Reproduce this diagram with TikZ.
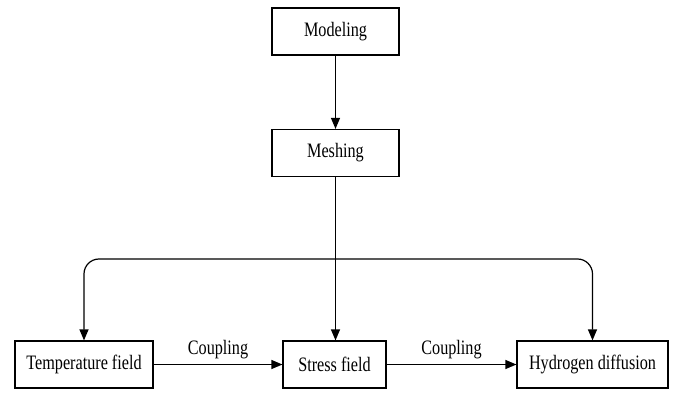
\documentclass[tikz,border=0pt]{standalone}
\usepackage{fontspec}
\setmainfont[FakeStretch=0.79]{Liberation Serif}
\usetikzlibrary{arrows.meta,positioning}
\begin{document}
\begin{tikzpicture}[x=1pt,y=1pt,
  box/.style={draw, line width=1.2pt, minimum height=47pt, inner sep=0pt, font=\fontsize{20.5}{22}\selectfont},
  arr/.style={line width=1.2pt, -{Triangle[length=11pt,width=9pt]}},
  lab/.style={font=\fontsize{20.5}{22}\selectfont}]
\useasboundingbox (0,0) rectangle (675,392);
\node[box, minimum width=127pt] (model) at (335.5,360.5) {Modeling};
\node[box, minimum width=127pt] (mesh) at (335.5,239) {Meshing};
\node[box, minimum width=138pt] (temp) at (84,27.5) {Temperature field};
\node[box, minimum width=103pt] (stress) at (334.5,27.5) {Stress field};
\node[box, minimum width=151pt] (hyd) at (592.5,27.5) {Hydrogen diffusion};
\coordinate (j) at (mesh.south |- 0,133);
\draw[arr] (model) -- (mesh);
\draw[arr] (mesh.south) -- (mesh.south |- stress.north);
\draw[arr, rounded corners=15pt] (j) -| (temp.north);
\draw[arr, rounded corners=15pt] (j) -| (hyd.north);
\draw[arr] (temp) -- node[lab, above=2pt] {Coupling} (stress);
\draw[arr] (stress) -- node[lab, above=2pt] {Coupling} (hyd);
\end{tikzpicture}
\end{document}
